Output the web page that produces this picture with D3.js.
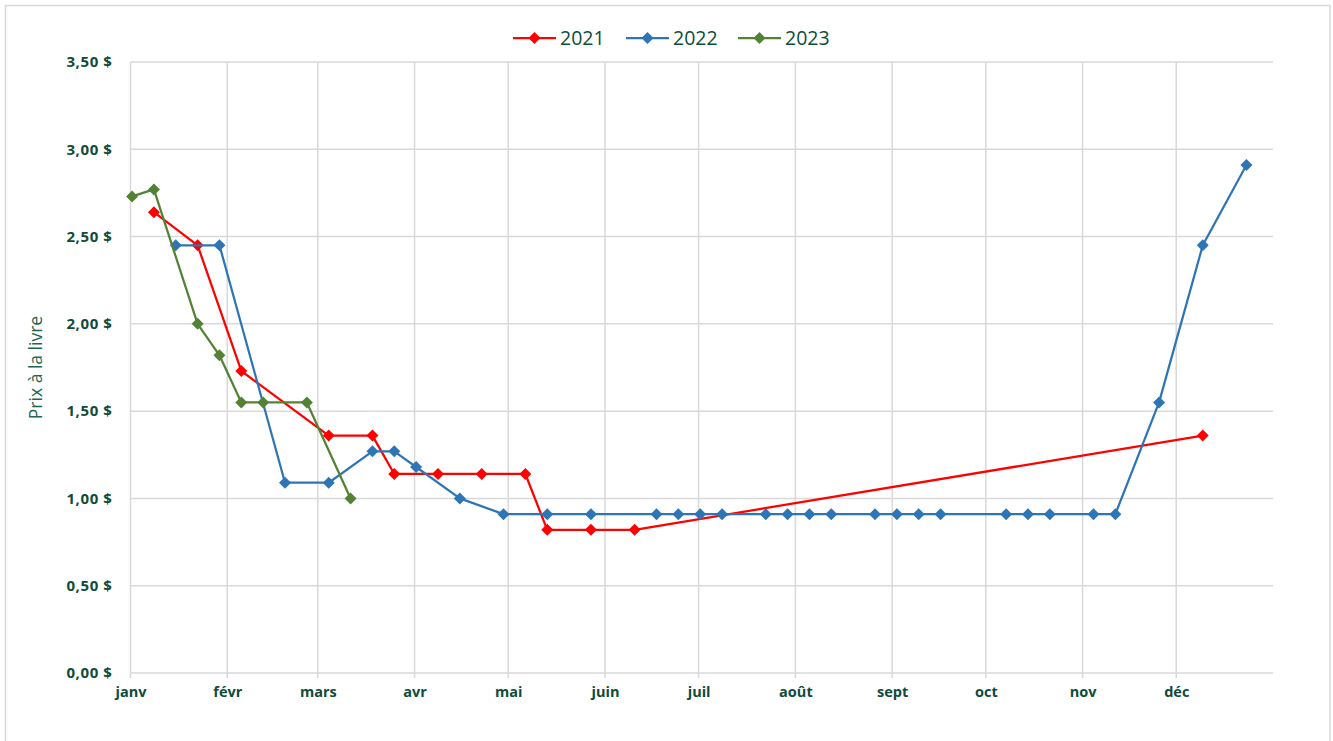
<!DOCTYPE html>
<html>
<head>
<meta charset="utf-8">
<script src="https://cdn.jsdelivr.net/npm/d3@7"></script>
<style>
  html, body { margin: 0; padding: 0; background: #fff; }
  svg { display: block; }
</style>
</head>
<body>
<svg id="chart" width="1333" height="741"></svg>
<script>
// ---- Data ----
const seriesNames = ["2021", "2022", "2023"];
const seriesColors = ["#FF0000", "#2E75B6", "#548235"];

const dates2021 = ["01-08","01-22","02-05","03-04","03-18","03-25","04-08","04-22","05-06","05-13","05-27","06-10","12-09"];
const values2021 = [2.64, 2.45, 1.73, 1.36, 1.36, 1.14, 1.14, 1.14, 1.14, 0.82, 0.82, 0.82, 1.36];

const dates2022 = ["01-15","01-29","02-19","03-04","03-18","03-25","04-01","04-15","04-29","05-13","05-27",
                   "06-17","06-24","07-01","07-08","07-22","07-29","08-05","08-12","08-26","09-02","09-09",
                   "09-16","10-07","10-14","10-21","11-04","11-11","11-25","12-09","12-23"];
const values2022 = [2.45, 2.45, 1.09, 1.09, 1.27, 1.27, 1.18, 1.00, 0.91, 0.91, 0.91,
                    0.91, 0.91, 0.91, 0.91, 0.91, 0.91, 0.91, 0.91, 0.91, 0.91, 0.91,
                    0.91, 0.91, 0.91, 0.91, 0.91, 0.91, 1.55, 2.45, 2.91];

const dates2023 = ["01-01","01-08","01-22","01-29","02-05","02-12","02-26","03-11"];
const values2023 = [2.73, 2.77, 2.00, 1.82, 1.55, 1.55, 1.55, 1.00];

const monthLabels = ["janv","févr","mars","avr","mai","juin","juil","août","sept","oct","nov","déc"];
const yTicks = [0, 0.5, 1, 1.5, 2, 2.5, 3, 3.5];
const yTitle = "Prix à la livre";

// ---- Setup ----
const refYear = 2024;
const parse = s => new Date(refYear, +s.slice(0,2) - 1, +s.slice(3,5), 12);
const seriesDates = [dates2021, dates2022, dates2023];
const seriesValues = [values2021, values2022, values2023];
const series = seriesNames.map((name, i) => ({
  name, color: seriesColors[i],
  points: seriesDates[i].map((d, j) => ({ x: parse(d), y: seriesValues[i][j] }))
}));

const svg = d3.select("#chart");
const textColor = "#0F4C3A";
const gridColor = "#D9D9D9";
const fontFamily = "'Open Sans', 'Noto Sans', sans-serif";

const plot = { left: 130.5, right: 1273, top: 62, bottom: 673 };
const x = d3.scaleTime()
  .domain([new Date(refYear, 0, 1), new Date(refYear + 1, 0, 1)])
  .range([plot.left, plot.right]);
const y = d3.scaleLinear().domain([0, 3.5]).range([plot.bottom, plot.top]);

// Outer border
svg.append("rect")
  .attr("x", 5.5).attr("y", 5.5).attr("width", 1324.5).attr("height", 745)
  .attr("fill", "none").attr("stroke", gridColor).attr("stroke-width", 1.5);

// Horizontal gridlines
svg.append("g").selectAll("line").data(yTicks.filter(v => v > 0)).join("line")
  .attr("x1", plot.left).attr("x2", plot.right)
  .attr("y1", d => y(d)).attr("y2", d => y(d))
  .attr("stroke", gridColor).attr("stroke-width", 1.5);

// Vertical gridlines at month starts
const monthStarts = d3.range(12).map(m => new Date(refYear, m, 1));
svg.append("g").selectAll("line").data(monthStarts).join("line")
  .attr("x1", d => x(d)).attr("x2", d => x(d))
  .attr("y1", plot.top).attr("y2", plot.bottom + 5)
  .attr("stroke", gridColor).attr("stroke-width", 1.5);

// X axis baseline
svg.append("line")
  .attr("x1", plot.left).attr("x2", plot.right)
  .attr("y1", plot.bottom).attr("y2", plot.bottom)
  .attr("stroke", gridColor).attr("stroke-width", 1.5);

// Y axis labels
const yAxis = d3.axisLeft(y).tickValues(yTicks)
  .tickFormat(d => d3.format(".2f")(d).replace(".", ",") + " $")
  .tickSize(0).tickPadding(18);
const gy = svg.append("g").attr("transform", `translate(${plot.left},0)`).call(yAxis);
gy.select(".domain").remove();
gy.selectAll("text")
  .attr("fill", textColor).attr("font-family", fontFamily)
  .attr("font-size", "15px").attr("font-weight", "bold").attr("letter-spacing", "0.6px");

// X axis labels
const xAxis = d3.axisBottom(x).tickValues(monthStarts)
  .tickFormat((d, i) => monthLabels[i]).tickSize(0).tickPadding(14);
const gx = svg.append("g").attr("transform", `translate(0,${plot.bottom})`).call(xAxis);
gx.select(".domain").remove();
gx.selectAll("text")
  .attr("fill", textColor).attr("font-family", fontFamily)
  .attr("font-size", "14.5px").attr("font-weight", "bold");

// Y title
svg.append("text")
  .attr("transform", `translate(42,${(plot.top + plot.bottom) / 2}) rotate(-90)`)
  .attr("text-anchor", "middle")
  .attr("fill", "#1E6650").attr("font-family", fontFamily).attr("font-size", "17.5px")
  .text(yTitle);

// Lines and markers
const line = d3.line().x(d => x(d.x)).y(d => y(d.y));
const diamond = "M0,-6L6,0L0,6L-6,0Z";
series.forEach(s => {
  const g = svg.append("g");
  g.append("path").datum(s.points)
    .attr("d", line).attr("fill", "none")
    .attr("stroke", s.color).attr("stroke-width", 2.25).attr("stroke-linejoin", "round");
  g.selectAll("path.m").data(s.points).join("path").attr("class", "m")
    .attr("d", diamond)
    .attr("transform", d => `translate(${x(d.x)},${y(d.y)})`)
    .attr("fill", s.color);
});

// Legend
const legendItems = [513, 626, 738];
const legend = svg.append("g");
series.forEach((s, i) => {
  const lx = legendItems[i];
  const g = legend.append("g").attr("transform", `translate(${lx},38)`);
  g.append("line").attr("x1", 0).attr("x2", 43).attr("y1", 0).attr("y2", 0)
    .attr("stroke", s.color).attr("stroke-width", 2.25);
  g.append("path").attr("d", diamond).attr("transform", "translate(21.5,0)").attr("fill", s.color);
  g.append("text").attr("x", 47).attr("y", 0).attr("dy", "0.35em")
    .attr("fill", textColor).attr("font-family", fontFamily).attr("font-size", "19.5px")
    .text(s.name);
});
</script>
</body>
</html>
